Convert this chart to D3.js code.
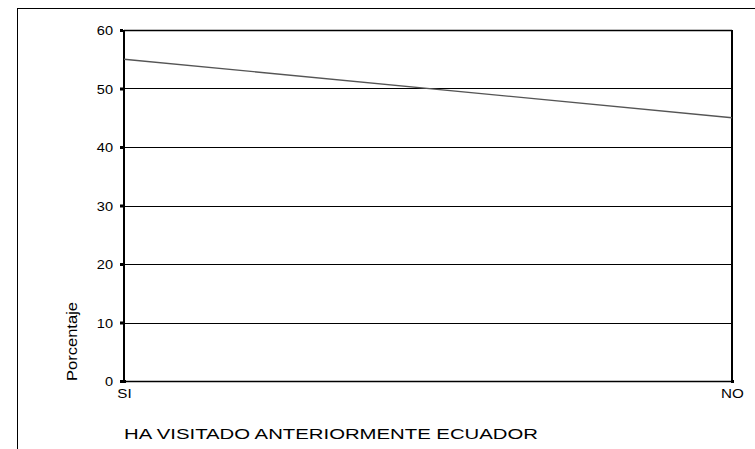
<!DOCTYPE html>
<html>
<head>
<meta charset="utf-8">
<script src="https://cdn.jsdelivr.net/npm/d3@7"></script>
<style>
  html, body { margin: 0; padding: 0; background: #fff; }
  svg { display: block; }
  text { font-family: "Liberation Sans", Arial, sans-serif; fill: #000; }
</style>
</head>
<body>
<script>
// Respuestas: ¿ha visitado anteriormente Ecuador?
const categories = ["SI", "NO"];
const percentages = [55, 45];
const yTicks = [0, 10, 20, 30, 40, 50, 60];
const xTitle = "HA VISITADO ANTERIORMENTE ECUADOR";
const yTitle = "Porcentaje";

const W = 755, H = 449;
const plot = { left: 124, right: 732, top: 30, bottom: 381 };
const wide = 1.12; // horizontal stretch for the wide label face

const svg = d3.select("body").append("svg").attr("width", W).attr("height", H);

// outer frame (top and left edges)
svg.append("line").attr("x1", 17).attr("x2", W).attr("y1", 8.5).attr("y2", 8.5)
  .attr("stroke", "#000").attr("stroke-width", 1);
svg.append("line").attr("x1", 17.5).attr("x2", 17.5).attr("y1", 8).attr("y2", H)
  .attr("stroke", "#000").attr("stroke-width", 1);

const x = d3.scalePoint().domain(categories).range([plot.left, plot.right]);
const y = d3.scaleLinear().domain([0, 60]).range([plot.bottom, plot.top]);

// horizontal grid lines
svg.append("g").selectAll("line").data(yTicks.filter(d => d > 0)).join("line")
  .attr("x1", plot.left).attr("x2", plot.right)
  .attr("y1", d => Math.round(y(d)) + 0.5).attr("y2", d => Math.round(y(d)) + 0.5)
  .attr("stroke", "#000").attr("stroke-width", 1);

// y axis
const yAxis = d3.axisLeft(y).tickValues(yTicks).tickSize(0).tickPadding(11);
const gy = svg.append("g").attr("transform", `translate(${plot.left},0)`).call(yAxis);
gy.select(".domain").remove();
gy.selectAll("text").style("font-size", "13px").attr("dy", "0.36em")
  .attr("x", -11 / wide).attr("transform", `scale(${wide},1)`);
gy.selectAll(".tick").append("rect")
  .attr("x", -4).attr("y", -1.5).attr("width", 3).attr("height", 3).attr("fill", "#000");

// x axis
const xAxis = d3.axisBottom(x).tickSize(0).tickPadding(8);
const gx = svg.append("g").attr("transform", `translate(0,${plot.bottom})`).call(xAxis);
gx.select(".domain").remove();
gx.selectAll("text").style("font-size", "13px").attr("transform", `scale(${wide + 0.05},1)`);
gx.selectAll(".tick").append("rect")
  .attr("x", -1.5).attr("y", -1).attr("width", 3).attr("height", 3).attr("fill", "#000");

// plot frame
svg.append("line").attr("x1", plot.left).attr("x2", plot.left)
  .attr("y1", plot.top).attr("y2", plot.bottom + 1).attr("stroke", "#000").attr("stroke-width", 2);
svg.append("line").attr("x1", plot.right).attr("x2", plot.right)
  .attr("y1", plot.top).attr("y2", plot.bottom + 1).attr("stroke", "#000").attr("stroke-width", 2);
svg.append("line").attr("x1", plot.left).attr("x2", plot.right)
  .attr("y1", plot.top + 0.5).attr("y2", plot.top + 0.5).attr("stroke", "#000").attr("stroke-width", 1.5);
svg.append("line").attr("x1", plot.left).attr("x2", plot.right)
  .attr("y1", plot.bottom + 0.5).attr("y2", plot.bottom + 0.5).attr("stroke", "#000").attr("stroke-width", 1.5);

// data line
const line = d3.line().x((d, i) => x(categories[i])).y(d => y(d));
svg.append("path").datum(percentages).attr("d", line)
  .attr("fill", "none").attr("stroke", "#555").attr("stroke-width", 1.3);

// axis titles
svg.append("text").attr("x", 124).attr("y", 439)
  .attr("textLength", 414).attr("lengthAdjust", "spacingAndGlyphs")
  .style("font-size", "15px").text(xTitle);

svg.append("text").attr("transform", "translate(77,381) rotate(-90)")
  .attr("textLength", 79).attr("lengthAdjust", "spacingAndGlyphs")
  .style("font-size", "15px").text(yTitle);
</script>
</body>
</html>
